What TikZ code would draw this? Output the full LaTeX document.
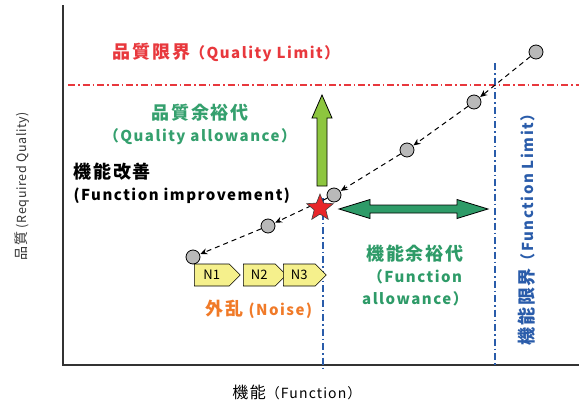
\documentclass[tikz,border=0pt]{standalone}
\usepackage{fontspec}
\setmainfont{Noto Sans CJK JP}[LetterSpace=10]
\usetikzlibrary{shapes.geometric,shapes.symbols,arrows.meta}
\definecolor{qred}{HTML}{E8383D}
\definecolor{tgreen}{HTML}{35A06E}
\definecolor{agreen}{HTML}{2E9B68}
\definecolor{lgreen}{HTML}{8DC63F}
\definecolor{lblue}{HTML}{2A5CAA}
\definecolor{orng}{HTML}{F07A28}
\definecolor{yel}{HTML}{F5F08C}
\definecolor{axgray}{HTML}{333333}
\definecolor{starred}{HTML}{E8262A}
\newcommand\J[1]{{\fontsize{18}{18}\selectfont #1}}
\begin{document}
\begin{tikzpicture}[x=1pt,y=-1pt,
  dot/.style={circle,draw=black,fill=gray!55,line width=0.8pt,minimum size=14pt,inner sep=0pt},
  flow/.style={line width=1pt,dash pattern=on 5pt off 4pt,-{Stealth[length=7pt,width=6pt]},shorten >=0.5pt},
  dashdot/.style={line width=1.3pt,dash pattern=on 7pt off 3pt on 1.5pt off 3pt},
  nbox/.style={signal,signal to=east,draw=black,fill=yel,line width=0.6pt,minimum width=46pt,minimum height=22pt,inner sep=0pt,font=\fontsize{13}{13}\selectfont\addfontfeatures{LetterSpace=0}},
  lbl/.style={font=\bfseries\fontsize{15}{22}\selectfont,align=center}]
\useasboundingbox (0,0) rectangle (581,407);
% axes
\draw[axgray,line width=1.5pt] (63,5) -- (63,365) -- (579,365);
% limits
\draw[draw=qred,dashdot] (68,85) -- (579,85);
\draw[draw=lblue,dashdot] (495,63) -- (495,366);
\draw[draw=lblue,dashdot] (323,198) -- (323,368);
% texts
\node[lbl,text=qred] (ql) at (226,52) {\J{品質限界}（Quality Limit）};
\node[lbl,text=tgreen] (qa) at (200,124) {\J{品質余裕代}\\（Quality allowance）};
\node[lbl,text=black,align=left,anchor=west] (fi) at (70,183) {\J{機能改善}\\(Function improvement)};
\node[lbl,text=agreen] (fa) at (415,276) {\J{機能余裕代}\\（Function\\allowance）};
\node[lbl,text=orng] (ns) at (259,309) {\J{外乱} (Noise)};
\node[lbl,text=lblue,rotate=90] (fl) at (527,226) {\J{機能限界}（Function Limit）};
\node[font=\fontsize{12.5}{12.5}\selectfont\addfontfeatures{LetterSpace=5},text=axgray,rotate=90] (yl) at (22,186) {{\fontsize{14}{14}\selectfont 品質} (Required Quality)};
\node[font=\fontsize{14}{14}\selectfont\addfontfeatures{LetterSpace=8},text=black] (xl) at (297,392) {{\fontsize{16}{16}\selectfont 機能}（Function）};
% green up arrow
\draw[fill=lgreen,line width=0.8pt] (317,186) -- (317,118) -- (312,118) -- (322,95) -- (332,118) -- (327,118) -- (327,186) -- cycle;
% double arrow
\draw[fill=agreen,line width=0.8pt] (339,209) -- (370,199.5) -- (370,205) -- (457,205) -- (457,199.5) -- (488,209) -- (457,218.5) -- (457,213) -- (370,213) -- (370,218.5) -- cycle;
% dots
\node[dot] (c1) at (536,52) {};
\node[dot] (c2) at (474,102) {};
\node[dot] (c3) at (407,150) {};
\node[dot] (c4) at (334,195) {};
\node[dot] (c5) at (268,226) {};
\node[dot] (c6) at (193,257) {};
\draw[flow] (c1) -- (c2);
\draw[flow] (c2) -- (c3);
\draw[flow] (c3) -- (c4);
\draw[flow] (c4) -- (c5);
\draw[flow] (c5) -- (c6);
% star
\node[star,star points=5,star point ratio=2.3,minimum size=28pt,inner sep=0pt,fill=starred,draw=black!75,line width=0.6pt] (st) at (320,208) {};
% noise boxes
\node[nbox,anchor=west] (n1) at (194,275) {N1};
\node[nbox,anchor=west,minimum width=43pt] (n2) at (243,275) {N2};
\node[nbox,anchor=west,minimum width=43pt] (n3) at (283,275) {N3};
\end{tikzpicture}
\end{document}
